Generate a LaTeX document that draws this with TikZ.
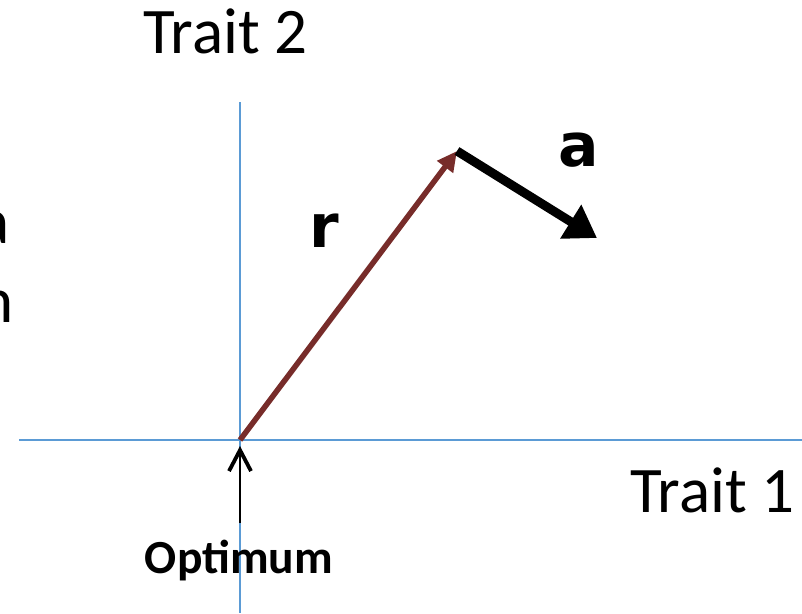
\documentclass[tikz,border=0pt]{standalone}
\usepackage{fontspec}
\setmainfont{Carlito}
\newfontfamily\dejavu{DejaVu Sans}
\usetikzlibrary{arrows.meta}
\definecolor{axisblue}{HTML}{5B9BD5}
\definecolor{rvec}{HTML}{772C2A}
\tikzset{
  axisline/.style={draw=axisblue, line width=1.6pt},
  bigtext/.style={inner sep=0pt, font=\fontsize{65}{65}\selectfont},
  veclabel/.style={inner sep=0pt, font=\dejavu\bfseries\fontsize{60}{60}\selectfont},
  optlabel/.style={inner sep=0pt, font=\bfseries\fontsize{47.5}{47.5}\selectfont},
}
\begin{document}
\begin{tikzpicture}[x=1pt,y=-1pt]
\useasboundingbox (0,0) rectangle (802,613);
\clip (0,0) rectangle (802,613);
% axes
\coordinate (vtop) at (240,102);
\coordinate (vbot) at (240,613);
\coordinate (hleft) at (19,440);
\coordinate (hright) at (802,440);
\coordinate (O) at (240,440);
\coordinate (P) at (457,151);
\coordinate (Q) at (597,238);
\coordinate (optbase) at (240,523);
\coordinate (opttip) at (240,446);
\draw[axisline] (vtop) -- (vbot);
\draw[axisline] (hleft) -- (hright);
% vectors
\draw[rvec, line width=5.5pt, -{Triangle[length=20pt,width=19pt]}] (O) -- (P);
\draw[black, line width=9pt, -{Triangle[length=31pt,width=38pt]}] (P) -- (Q);
% optimum pointer
\draw[black, line width=2.2pt, -{Straight Barb[length=21pt,width=22pt,line width=3.8pt]}] (optbase) -- (opttip);
% labels
\node[bigtext, anchor=base west] (t2) at (143,53) {Trait 2};
\node[bigtext, anchor=base west] (t1) at (630,512) {Trait 1};
\node[veclabel, anchor=base] (rl) at (324,247) {r};
\node[veclabel, anchor=base] (al) at (579,166) {a};
\node[optlabel, anchor=base] (opt) at (239,573) {Optimum};
\node[bigtext, anchor=base east] (la) at (10,243) {a};
\node[bigtext, anchor=base east] (ln) at (14,322) {n};
\end{tikzpicture}
\end{document}
